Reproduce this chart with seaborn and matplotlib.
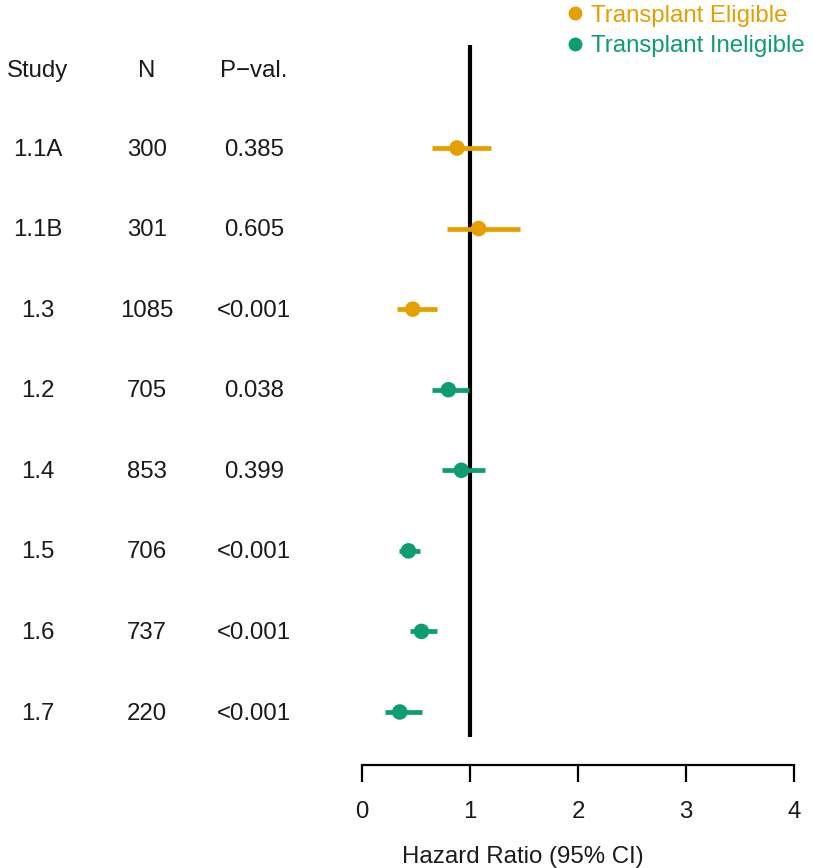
import matplotlib
matplotlib.use("Agg")
import matplotlib.pyplot as plt
import matplotlib.transforms as mtransforms
from matplotlib.lines import Line2D
import seaborn as sns
import pandas as pd
import numpy as np

sns.set_style("white")
plt.rcParams['font.family'] = ['Liberation Sans', 'DejaVu Sans']

studies = ["1.1A", "1.1B", "1.3", "1.2", "1.4", "1.5", "1.6", "1.7"]
n_values = ["300", "301", "1085", "705", "853", "706", "737", "220"]
p_values = ["0.385", "0.605", "<0.001", "0.038", "0.399", "<0.001", "<0.001", "<0.001"]
hr = [0.88, 1.08, 0.47, 0.80, 0.92, 0.43, 0.55, 0.35]
ci_low = [0.65, 0.79, 0.32, 0.65, 0.74, 0.34, 0.44, 0.21]
ci_high = [1.19, 1.46, 0.69, 0.99, 1.14, 0.54, 0.69, 0.56]
groups = ["Transplant Eligible"] * 3 + ["Transplant Ineligible"] * 5
group_order = ["Transplant Eligible", "Transplant Ineligible"]
palette = {"Transplant Eligible": "#E69F00", "Transplant Ineligible": "#0E9C72"}
headers = ["Study", "N", "P\u2212val."]
x_ticks = [0, 1, 2, 3, 4]

df = pd.DataFrame({"study": studies, "n": n_values, "p": p_values,
                   "hr": hr, "lo": ci_low, "hi": ci_high, "group": groups})
df["row"] = np.arange(len(df))

FS = 17.3
TXT = "#1a1a1a"
W, H = 813, 868
fig = plt.figure(figsize=(W / 100, H / 100), dpi=100)
ax = fig.add_axes([362 / W, (H - 765) / H, 432 / W, 765 / H])
ax.set_xlim(0, 4)
ax.set_ylim(7.658, -1.837)

# reference line
ax.vlines(1, -1.28, 7.31, color="black", lw=3, zorder=1)

# CIs
for g in group_order:
    sub = df[df.group == g]
    ax.hlines(sub["row"], sub["lo"], sub["hi"], color=palette[g], lw=3.4, zorder=2)

sns.scatterplot(data=df, x="hr", y="row", hue="group", hue_order=group_order,
                palette=palette, s=125, edgecolor="none", ax=ax, zorder=3, legend=False)

# axes styling
for s in ["top", "right", "left"]:
    ax.spines[s].set_visible(False)
ax.spines["bottom"].set_linewidth(1.6)
ax.spines["bottom"].set_color("black")
ax.set_yticks([])
ax.set_xticks(x_ticks)
ax.set_xticklabels([str(t) for t in x_ticks])
ax.tick_params(axis="x", direction="out", length=12, width=1.6, pad=14,
               labelsize=FS, colors="black", labelcolor=TXT, bottom=True)
ax.set_xlabel("")
ax.set_ylabel("")

# table text
trans = mtransforms.blended_transform_factory(fig.transFigure, ax.transData)
col_x = [38 / W, 147 / W, 254 / W]
yoff = 0.02
for cx, h in zip(col_x, headers):
    ax.text(cx, -0.97 + yoff, h, transform=trans, ha="center", va="center", fontsize=FS,
            color=TXT, clip_on=False)
for i, r in df.iterrows():
    for cx, key in zip(col_x, ["study", "n", "p"]):
        ax.text(cx, r["row"] + yoff, r[key], transform=trans, ha="center", va="center",
                fontsize=FS, color=TXT, clip_on=False)

fig.text(523 / W, 1 - 857 / H, "Hazard Ratio (95% CI)", ha="center", va="center",
         fontsize=FS, color=TXT)

# legend
handles = [Line2D([0], [0], marker="o", linestyle="none", markersize=10,
                  markerfacecolor=palette[g], markeredgecolor="none") for g in group_order]
leg = fig.legend(handles, group_order, loc="upper left",
                 bbox_to_anchor=(553 / W, 1 + 5 / H), frameon=False, fontsize=FS,
                 handletextpad=0.2, labelspacing=0.35, borderaxespad=0, handlelength=1.0)
for t, g in zip(leg.get_texts(), group_order):
    t.set_color(palette[g])

fig.savefig("out.png", dpi=100)
